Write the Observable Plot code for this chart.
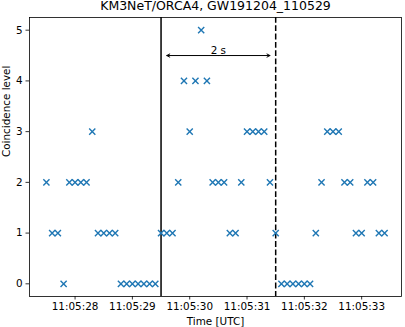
<!DOCTYPE html>
<html><head><meta charset="utf-8">
<script src="https://cdn.jsdelivr.net/npm/d3@7"></script>
<script src="https://cdn.jsdelivr.net/npm/@observablehq/plot@0.6"></script>
<style>body{margin:0;background:#fff} svg{display:block}</style>
</head><body><div id="chart"></div>
<script>
const title = "KM3NeT/ORCA4, GW191204_110529";
const xLabel = "Time [UTC]";
const yLabel = "Coincidence level";
// seconds after 11:05:00 UTC (2019-12-04), 0.1 s bins
const seconds = [27.5,27.6,27.7,27.8,27.9,28.0,28.1,28.2,28.3,28.4,
                 28.5,28.6,28.7,28.8,28.9,29.0,29.1,29.2,29.3,29.4,
                 29.5,29.6,29.7,29.8,29.9,30.0,30.1,30.2,30.3,30.4,
                 30.5,30.6,30.7,30.8,30.9,31.0,31.1,31.2,31.3,31.4,
                 31.5,31.6,31.7,31.8,31.9,32.0,32.1,32.2,32.3,32.4,
                 32.5,32.6,32.7,32.8,32.9,33.0,33.1,33.2,33.3,33.4];
const levels = [2,1,1,0,2,2,2,2,3,1,
                1,1,1,0,0,0,0,0,0,0,
                1,1,1,2,4,3,4,5,4,2,
                2,2,1,1,2,3,3,3,3,2,
                1,0,0,0,0,0,0,1,2,3,
                3,3,2,2,1,1,2,2,1,1];
const eventSecond = 29.5;
const windowEndSecond = 31.5;
const arrowStart = 29.6, arrowEnd = 31.4, arrowLevel = 4.5, arrowLabel = "2 s";
const xTickSeconds = [28,29,30,31,32,33];
const yTicks = [0,1,2,3,4,5];
const xDomainSeconds = [27.205, 33.695];
const yDomain = [-0.25, 5.25];

const base = Date.UTC(2019, 11, 4, 11, 5, 0);
const t = s => new Date(base + Math.round(s * 1000));
const data = seconds.map((s, i) => ({time: t(s), level: levels[i]}));
const mid = (arrowStart + arrowEnd) / 2;
const arrowSegs = [{x1: t(mid), x2: t(arrowStart)}, {x1: t(mid), x2: t(arrowEnd)}];
const fmt = d3.utcFormat("%H:%M:%S");

const chart = Plot.plot({
  width: 405, height: 327,
  marginLeft: 29, marginRight: 4, marginTop: 17, marginBottom: 31,
  style: {fontFamily: "DejaVu Sans", fontSize: "10.4px", color: "#000", background: "#fff"},
  x: {type: "utc", domain: xDomainSeconds.map(t)},
  y: {domain: yDomain},
  marks: [
    Plot.axisX({ticks: xTickSeconds.map(t), tickFormat: fmt, tickSize: 3.5, tickPadding: 3, label: null, strokeWidth: 0.8, fontSize: 10.4}),
    Plot.axisY({ticks: yTicks, tickFormat: d => d, tickSize: 3.5, tickPadding: 3.5, label: null, strokeWidth: 0.8, fontSize: 10.4}),
    Plot.ruleX([t(eventSecond)], {stroke: "#000", strokeWidth: 1.5}),
    Plot.ruleX([t(windowEndSecond)], {stroke: "#000", strokeWidth: 1.5, strokeDasharray: "5.8,2.5"}),
    Plot.arrow(arrowSegs, {x1: "x1", x2: "x2", y1: () => arrowLevel, y2: () => arrowLevel, stroke: "#000", strokeWidth: 1, headLength: 5, headAngle: 55, inset: 0}),
    Plot.text([arrowLabel], {x: () => t(mid), y: () => arrowLevel, dy: -1.5, lineAnchor: "bottom", fontSize: 10.4, fill: "#000"}),
    Plot.dot(data, {x: "time", y: "level", symbol: "times", r: 2.9, stroke: "#1f77b4", strokeWidth: 1.4}),
    Plot.frame({stroke: "#000", strokeWidth: 0.8}),
    Plot.text([title], {frameAnchor: "top", dy: -7.2, lineAnchor: "bottom", fontSize: 12.5, fill: "#000"}),
    Plot.text([xLabel], {frameAnchor: "bottom", dy: 28.5, lineAnchor: "bottom", fontSize: 10.4, fill: "#000"}),
    Plot.text([yLabel], {frameAnchor: "left", dx: -19.7, rotate: -90, lineAnchor: "bottom", fontSize: 10.4, fill: "#000"})
  ]
});
document.getElementById("chart").append(chart);
</script>
</body></html>
